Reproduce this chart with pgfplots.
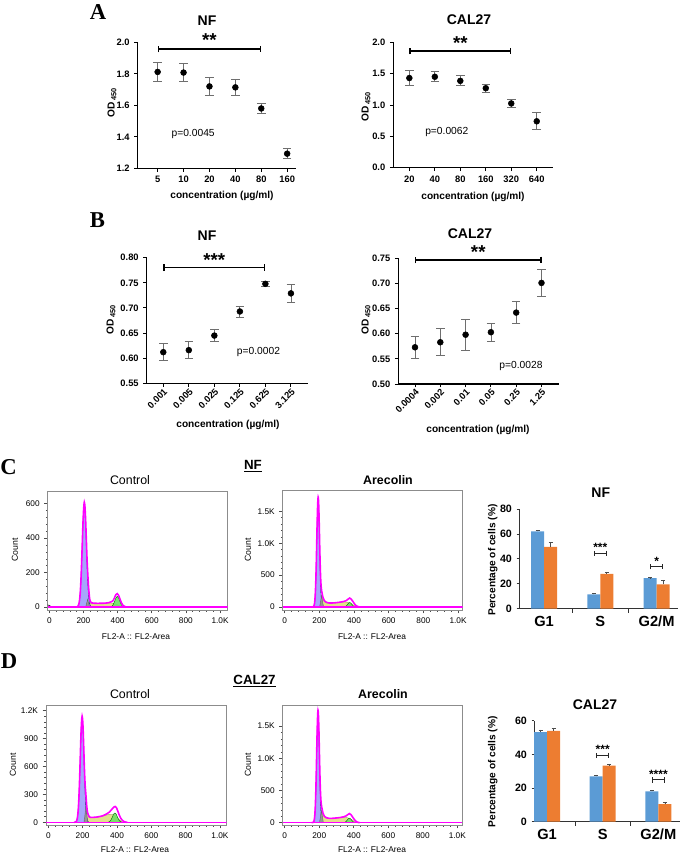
\documentclass[border=0pt]{standalone}
\usepackage{fontspec}
\setmainfont{Liberation Sans}
\newfontfamily\serifbf{Liberation Serif}
\usepackage{pgfplots}
\pgfplotsset{compat=1.18}
\usetikzlibrary{arrows.meta}
\definecolor{barblue}{RGB}{91,155,213}
\definecolor{barorange}{RGB}{237,125,49}
\definecolor{hblue}{RGB}{150,150,250}
\definecolor{hyel}{RGB}{226,224,140}
\definecolor{hgreen}{RGB}{110,225,100}
\definecolor{hgray}{RGB}{150,150,150}
\definecolor{hmag}{RGB}{255,0,255}
\definecolor{errgray}{RGB}{110,110,110}
\newcommand\fs[1]{\fontsize{#1}{#1}\selectfont}
\tikzset{sig/.style={{Bar[width=5pt]}-{Bar[width=5pt]}, line width=1.1pt, black},
  bsig/.style={{Bar[width=4pt]}-{Bar[width=4pt]}, line width=0.8pt, black!85}}
\pgfplotsset{
  gp/.style={scale only axis, anchor=south west, clip=false,
    axis x line=bottom, axis y line=left,
    axis line style={-, black, line width=0.8pt},
    tick align=outside, tick style={black, line width=0.7pt}, major tick length=2.5pt,
    tick label style={font=\bfseries\fs{7}},
    /pgf/number format/assume math mode=true,
    xtick={0,1,2,3,4,5}},
  err/.style={only marks, mark=*, mark size=2.2pt, black,
    error bars/.cd, y dir=both, y explicit,
    error bar style={errgray, line width=0.6pt},
    error mark options={rotate=90, mark size=3.2pt, errgray, line width=0.6pt}},
  hist/.style={scale only axis, anchor=south west, clip=true,
    axis line style={black!45, line width=0.5pt},
    tick pos=left, tick align=outside, tick style={black!70, line width=0.4pt},
    major tick length=2.5pt, minor tick length=1.3pt,
    minor x tick num=4, minor y tick num=4,
    tick label style={font=\fs{6.2}},
    /pgf/number format/assume math mode=true, scaled ticks=false,
    xtick={0,200,400,600,800,1000}, xticklabels={0,200,400,600,800,1.0K}},
  bfill/.style={fill=hblue, fill opacity=0.85, draw=blue!40!black, line width=0.3pt, smooth},
  yfill/.style={fill=hyel, draw=hyel!70!black, line width=0.3pt, smooth},
  gfill/.style={fill=hgray, draw=black!60, line width=0.3pt},
  grfill/.style={fill=hgreen, fill opacity=0.9, draw=green!40!black, line width=0.3pt, smooth},
  mline/.style={hmag, line width=1.2pt, smooth},
  bars/.style={scale only axis, anchor=south west, clip=false,
    ybar=0pt, bar width=9.75pt,
    axis x line=bottom, axis y line=left,
    axis line style={-, black!80, line width=0.6pt},
    tick align=outside, major tick length=2pt, minor tick length=3pt,
    tick style={black!80, line width=0.6pt},
    xtick={0,1,2}, xticklabels={G1,S,G2/M}, major x tick style={draw=none},
    minor xtick={0.5,1.5},
    xticklabel style={font=\bfseries\fs{11}},
    yticklabel style={font=\bfseries\fs{8}},
    /pgf/number format/assume math mode=true},
  berr/.style={error bars/.cd, y dir=plus, y explicit,
    error bar style={black!70, line width=0.5pt},
    error mark options={rotate=90, mark size=1.5pt, black!70, line width=0.5pt}},
}
\begin{document}
\begin{tikzpicture}[x=0.75pt,y=-0.75pt]
\useasboundingbox (0,0) rectangle (685,854);

% ---------------- Panel A -----------------
\node[font=\serifbf\bfseries\fs{17}] at (98,12.5) {A};
\node[font=\bfseries\fs{10.5}] at (207,21) {NF};
\node[font=\bfseries\fs{10.5}] at (469,20) {CAL27};
\node[font=\bfseries\fs{7.6}] at (222,196) {concentration (µg/ml)};
\node[font=\bfseries\fs{7.6}] at (473,197) {concentration (µg/ml)};
\node[font=\bfseries\fs{7.6}, rotate=90] at (112,103) {OD\,\raisebox{-0.3ex}{\fs{5.5}450}};
\node[font=\bfseries\fs{7.6}, rotate=90] at (366,107) {OD\,\raisebox{-0.3ex}{\fs{5.5}450}};

\begin{axis}[gp, at={(137.7*0.75pt,-168.3*0.75pt)}, width=118.7pt, height=94.5pt,
  xmin=-0.77, xmax=5.34, ymin=1.2, ymax=2.0,
  xticklabels={5,10,20,40,80,160},
  ytick={1.2,1.4,1.6,1.8,2.0},
  yticklabel style={/pgf/number format/.cd, fixed, fixed zerofill, precision=1}]
\addplot[err] coordinates {(0,1.812) +- (0,0.062) (1,1.808) +- (0,0.057) (2,1.720) +- (0,0.055) (3,1.714) +- (0,0.051) (4,1.580) +- (0,0.032) (5,1.293) +- (0,0.032)};
\draw[sig] (axis cs:0,1.957) -- (axis cs:4,1.957);
\node[font=\bfseries\fs{14}] at (axis cs:2,2.012) {**};
\node[font=\fs{7.7}] at (axis cs:1.37,1.42) {p=0.0045};
\end{axis}

\begin{axis}[gp, at={(393.3*0.75pt,-167.7*0.75pt)}, width=120pt, height=94.05pt,
  xmin=-0.63, xmax=5.65, ymin=0, ymax=2.0,
  xticklabels={20,40,80,160,320,640},
  ytick={0,0.5,1.0,1.5,2.0},
  yticklabel style={/pgf/number format/.cd, fixed, fixed zerofill, precision=1}]
\addplot[err] coordinates {(0,1.43) +- (0,0.115) (1,1.45) +- (0,0.08) (2,1.385) +- (0,0.08) (3,1.268) +- (0,0.065) (4,1.025) +- (0,0.07) (5,0.74) +- (0,0.135)};
\draw[sig] (axis cs:0,1.86) -- (axis cs:4,1.86);
\node[font=\bfseries\fs{14}] at (axis cs:2,1.985) {**};
\node[font=\fs{7.7}] at (axis cs:1.47,0.574) {p=0.0062};
\end{axis}

% ---------------- Panel B -----------------
\node[font=\serifbf\bfseries\fs{17}] at (97.5,220.5) {B};
\node[font=\bfseries\fs{10.5}] at (207,235.5) {NF};
\node[font=\bfseries\fs{10.5}] at (470,234) {CAL27};
\node[font=\bfseries\fs{7.6}] at (228,425) {concentration (µg/ml)};
\node[font=\bfseries\fs{7.6}] at (478,430) {concentration (µg/ml)};
\node[font=\bfseries\fs{7.6}, rotate=90] at (111,320) {OD\,\raisebox{-0.3ex}{\fs{5.5}450}};
\node[font=\bfseries\fs{7.6}, rotate=90] at (366,320) {OD\,\raisebox{-0.3ex}{\fs{5.5}450}};

\begin{axis}[gp, at={(146.7*0.75pt,-383.3*0.75pt)}, width=121pt, height=94.2pt,
  xmin=-0.65, xmax=5.67, ymin=0.55, ymax=0.80,
  xticklabels={0.001,0.005,0.025,0.125,0.625,3.125},
  xticklabel style={rotate=45, anchor=north east, inner sep=0.5pt},
  ytick={0.55,0.60,0.65,0.70,0.75,0.80},
  yticklabel style={/pgf/number format/.cd, fixed, fixed zerofill, precision=2}]
\addplot[err] coordinates {(0,0.612) +- (0,0.017) (1,0.616) +- (0,0.017) (2,0.645) +- (0,0.012) (3,0.693) +- (0,0.011) (4,0.748) +- (0,0.005) (5,0.729) +- (0,0.018)};
\draw[sig] (axis cs:0,0.780) -- (axis cs:4,0.780);
\node[font=\bfseries\fs{14}] at (axis cs:2,0.796) {***};
\node[font=\fs{7.7}] at (axis cs:3.73,0.613) {p=0.0002};
\end{axis}

\begin{axis}[gp, at={(398.3*0.75pt,-384*0.75pt)}, width=120.5pt, height=94.3pt,
  xmin=-0.66, xmax=5.69, ymin=0.50, ymax=0.75,
  xticklabels={0.0004,0.002,0.01,0.05,0.25,1.25},
  xticklabel style={rotate=45, anchor=north east, inner sep=0.5pt},
  ytick={0.50,0.55,0.60,0.65,0.70,0.75},
  yticklabel style={/pgf/number format/.cd, fixed, fixed zerofill, precision=2}]
\addplot[err] coordinates {(0,0.573) +- (0,0.022) (1,0.583) +- (0,0.027) (2,0.598) +- (0,0.031) (3,0.603) +- (0,0.018) (4,0.642) +- (0,0.022) (5,0.701) +- (0,0.026)};
\draw[sig] (axis cs:0,0.7466) -- (axis cs:5,0.7466);
\node[font=\bfseries\fs{14}] at (axis cs:2.5,0.762) {**};
\node[font=\fs{7.7}] at (axis cs:4.19,0.536) {p=0.0028};
\end{axis}

% ---------------- Panel C -----------------
\node[font=\serifbf\bfseries\fs{17}] at (8.5,466.7) {C};
\node[font=\bfseries\fs{10}] (nf) at (253,466) {\underline{NF}};
\node[font=\fs{9.3}] at (130,480) {Control};
\node[font=\bfseries\fs{9.3}] at (388,480) {Arecolin};
\node[font=\fs{6.5}, rotate=90] at (15,550) {Count};
\node[font=\fs{6.5}, rotate=90] at (248,550) {Count};
\node[font=\fs{6.3}] at (136,637) {FL2-A :: FL2-Area};
\node[font=\fs{6.3}] at (372,637) {FL2-A :: FL2-Area};

\begin{axis}[hist, at={(47.7*0.75pt,-610*0.75pt)}, width=135pt, height=88.7pt,
  xmin=-9.4, xmax=1045, ymin=-17, ymax=669, ytick={0,200,400,600}]
\addplot[yfill] coordinates {(210,0) (216,15) (222,32) (230,25) (240,22) (260,21) (280,21) (300,21) (320,21) (340,22) (360,24) (380,21) (400,13) (415,5) (428,0)};
\addplot[bfill] coordinates {(161,0) (165,2) (169,7) (173,17) (177,39) (181,81) (185,150) (189,247) (193,364) (197,480) (201,567) (205,600) (209,567) (213,480) (217,364) (221,247) (225,150) (229,81) (233,39) (237,17) (241,7) (245,0)};
\addplot[gfill] coordinates {(214,0) (224,45) (236,0)};
\addplot[grfill] coordinates {(358,0) (366,4.5) (374,14) (382,32) (390,53) (398,62) (406,53) (414,32) (422,14) (430,4.5) (438,0)};
\addplot[black, line width=0.5pt] coordinates {(-10,12) (0,10) (8,4) (15,0)};
\addplot[hmag, line width=1.2pt] coordinates {(-10,0) (1045,0)};
\addplot[mline] coordinates {(150,0) (161,1) (165,2) (169,7) (173,17) (177,39) (181,81) (185,150) (189,247) (193,364) (197,480) (201,567) (205,608) (209,580) (213,500) (217,390) (221,280) (225,200) (229,130) (233,80) (237,45) (241,30) (250,24) (270,22) (300,22) (330,23) (350,26) (366,32) (374,38) (382,54) (390,72) (398,78) (406,68) (414,47) (422,26) (430,12) (440,4) (455,0)};
\end{axis}

\begin{axis}[hist, at={(282.7*0.75pt,-610*0.75pt)}, width=135pt, height=89.5pt,
  xmin=-11.5, xmax=1027, ymin=-47, ymax=1823, ytick={0,500,1000,1500}, yticklabels={0,500,1.0K,1.5K}]
\addplot[yfill] coordinates {(200,0) (206,70) (213,180) (222,115) (235,70) (260,60) (290,64) (320,72) (345,80) (365,72) (385,50) (400,25) (415,6) (425,0)};
\addplot[bfill] coordinates {(166,0) (169,19) (172,54) (175,135) (178,293) (181,552) (184,903) (187,1283) (190,1585) (193,1700) (196,1585) (199,1283) (202,903) (205,552) (208,293) (211,135) (214,54) (217,19) (220,0)};
\addplot[gfill] coordinates {(202,0) (213,180) (224,0)};
\addplot[grfill] coordinates {(343,0) (347,5) (351,10) (355,18) (359,29) (363,42.5) (367,56) (371,66) (375,70) (379,66) (383,56) (387,42.5) (391,29) (395,18) (399,10) (403,5) (407,0)};
\addplot[hmag, line width=1.2pt] coordinates {(-12,0) (1030,0)};
\addplot[mline] coordinates {(155,0) (166,6) (169,19) (172,54) (175,135) (178,293) (181,552) (184,903) (187,1283) (190,1590) (193,1720) (196,1620) (199,1330) (202,960) (205,640) (208,420) (211,300) (214,240) (218,185) (222,140) (230,95) (240,75) (260,62) (290,66) (320,76) (340,86) (355,100) (365,122) (375,140) (385,120) (395,80) (405,42) (415,16) (425,5) (435,0)};
\end{axis}

\node[font=\bfseries\fs{10.5}] at (600.8,492.5) {NF};
\node[font=\bfseries\fs{7.6}, rotate=90] at (492.7,560) {Percentage of cells (\%)};
\begin{axis}[bars, at={(519.3*0.75pt,-608.7*0.75pt)}, width=119pt, height=74.8pt,
  xmin=-0.44, xmax=2.38, ymin=0, ymax=80, ytick={0,20,40,60,80}]
\addplot[fill=barblue, draw=none, berr] coordinates {(0,62) +- (0,1) (1,11.5) +- (0,0.8) (2,24.5) +- (0,0.5)};
\addplot[fill=barorange, draw=none, berr] coordinates {(0,49.5) +- (0,4) (1,28) +- (0,1.5) (2,19.5) +- (0,3)};
\draw[bsig] (axis cs:0.885,44.5) -- (axis cs:1.115,44.5);
\node[font=\bfseries\fs{9}, anchor=south, inner sep=0.5pt] at (axis cs:1,45) {***};
\draw[bsig] (axis cs:1.885,33.7) -- (axis cs:2.115,33.7);
\node[font=\bfseries\fs{9}, anchor=south, inner sep=0.5pt] at (axis cs:2,34.2) {*};
\end{axis}

% ---------------- Panel D -----------------
\node[font=\serifbf\bfseries\fs{17}] at (9,661.5) {D};
\node[font=\bfseries\fs{10}] at (254.5,681) {\underline{CAL27}};
\node[font=\fs{9.3}] at (130,694) {Control};
\node[font=\bfseries\fs{9.3}] at (383,694) {Arecolin};
\node[font=\fs{6.5}, rotate=90] at (13,765) {Count};
\node[font=\fs{6.5}, rotate=90] at (248,765) {Count};
\node[font=\fs{6.3}] at (135,850) {FL2-A :: FL2-Area};
\node[font=\fs{6.3}] at (372,850) {FL2-A :: FL2-Area};

\begin{axis}[hist, at={(46*0.75pt,-825*0.75pt)}, width=135.5pt, height=90pt,
  xmin=-13.4, xmax=1039, ymin=-29, ymax=1260, ytick={0,300,600,900,1200}, yticklabels={0,300,600,900,1.2K}]
\addplot[yfill] coordinates {(205,0) (212,60) (219,165) (228,90) (240,50) (270,52) (300,60) (330,74) (355,86) (375,82) (395,62) (410,34) (425,12) (440,0)};
\addplot[bfill] coordinates {(158,0) (161,5) (164,12) (167,27) (170,56) (173,105) (176,183) (179,296) (182,446) (185,623) (188,809) (191,974) (194,1088) (197,1130) (200,1088) (203,974) (206,809) (209,623) (212,446) (215,296) (218,183) (221,105) (224,56) (227,27) (230,12) (233,5) (236,0)};
\addplot[gfill] coordinates {(209,0) (219,165) (230,0)};
\addplot[grfill] coordinates {(350,0) (352,3.7) (356,7.3) (360,13.5) (364,23) (368,36) (372,52) (376,69) (380,85) (384,96) (388,100) (392,96) (396,85) (400,69) (404,52) (408,36) (412,23) (416,13.5) (420,7.3) (424,3.7) (428,0)};
\addplot[hmag, line width=1.2pt] coordinates {(-14,0) (1040,0)};
\addplot[mline] coordinates {(150,0) (161,5) (164,12) (167,27) (170,56) (173,105) (176,183) (179,296) (182,446) (185,623) (188,809) (191,974) (194,1090) (197,1140) (200,1100) (203,990) (206,830) (209,650) (212,500) (215,390) (218,320) (221,250) (224,175) (227,125) (230,97) (235,72) (240,56) (260,53) (280,56) (300,62) (320,72) (340,90) (356,110) (368,135) (376,152) (384,166) (390,170) (396,160) (404,125) (412,85) (420,50) (430,24) (440,9) (450,3) (460,0)};
\end{axis}

\begin{axis}[hist, at={(282.7*0.75pt,-825*0.75pt)}, width=134.7pt, height=90pt,
  xmin=-11.6, xmax=1029, ymin=-36, ymax=1827, ytick={0,500,1000,1500}, yticklabels={0,500,1.0K,1.5K}]
\addplot[yfill] coordinates {(200,0) (206,75) (213,190) (222,120) (235,75) (260,65) (290,70) (320,78) (345,84) (365,76) (385,52) (400,26) (415,6) (425,0)};
\addplot[bfill] coordinates {(166,0) (169,19) (172,55) (175,137) (178,297) (181,560) (184,916) (187,1302) (190,1608) (193,1725) (196,1608) (199,1302) (202,916) (205,560) (208,297) (211,137) (214,55) (217,19) (220,0)};
\addplot[gfill] coordinates {(202,0) (213,190) (224,0)};
\addplot[grfill] coordinates {(343,0) (347,5) (351,10) (355,18) (359,29) (363,42.5) (367,56) (371,66) (375,70) (379,66) (383,56) (387,42.5) (391,29) (395,18) (399,10) (403,5) (407,0)};
\addplot[hmag, line width=1.2pt] coordinates {(-12,0) (1030,0)};
\addplot[mline] coordinates {(155,0) (166,6) (169,19) (172,55) (175,137) (178,297) (181,560) (184,916) (187,1302) (190,1612) (193,1745) (196,1640) (199,1350) (202,975) (205,650) (208,430) (211,310) (214,250) (218,195) (222,148) (230,100) (240,80) (260,67) (290,71) (320,80) (340,90) (355,104) (365,124) (375,142) (385,122) (395,82) (405,43) (415,16) (425,5) (435,0)};
\end{axis}

\node[font=\bfseries\fs{10.5}] at (595,705) {CAL27};
\node[font=\bfseries\fs{7.6}, rotate=90] at (492.7,771.7) {Percentage of cells (\%)};
\begin{axis}[bars, at={(534.3*0.75pt,-821.7*0.75pt)}, width=109.3pt, height=75.75pt,
  xmin=-0.23, xmax=2.39, ymin=0, ymax=60, ytick={0,20,40,60}]
\addplot[fill=barblue, draw=none, berr] coordinates {(0,53.2) +- (0,1.3) (1,27) +- (0,0.8) (2,18) +- (0,0.6)};
\addplot[fill=barorange, draw=none, berr] coordinates {(0,54) +- (0,1.5) (1,33.3) +- (0,0.9) (2,10.5) +- (0,0.8)};
\draw[bsig] (axis cs:0.883,39.4) -- (axis cs:1.117,39.4);
\node[font=\bfseries\fs{9}, anchor=south, inner sep=0.5pt] at (axis cs:1,39.9) {***};
\draw[bsig] (axis cs:1.883,24.8) -- (axis cs:2.117,24.8);
\node[font=\bfseries\fs{9}, anchor=south, inner sep=0.5pt] at (axis cs:2,25.3) {****};
\end{axis}

\end{tikzpicture}
\end{document}
